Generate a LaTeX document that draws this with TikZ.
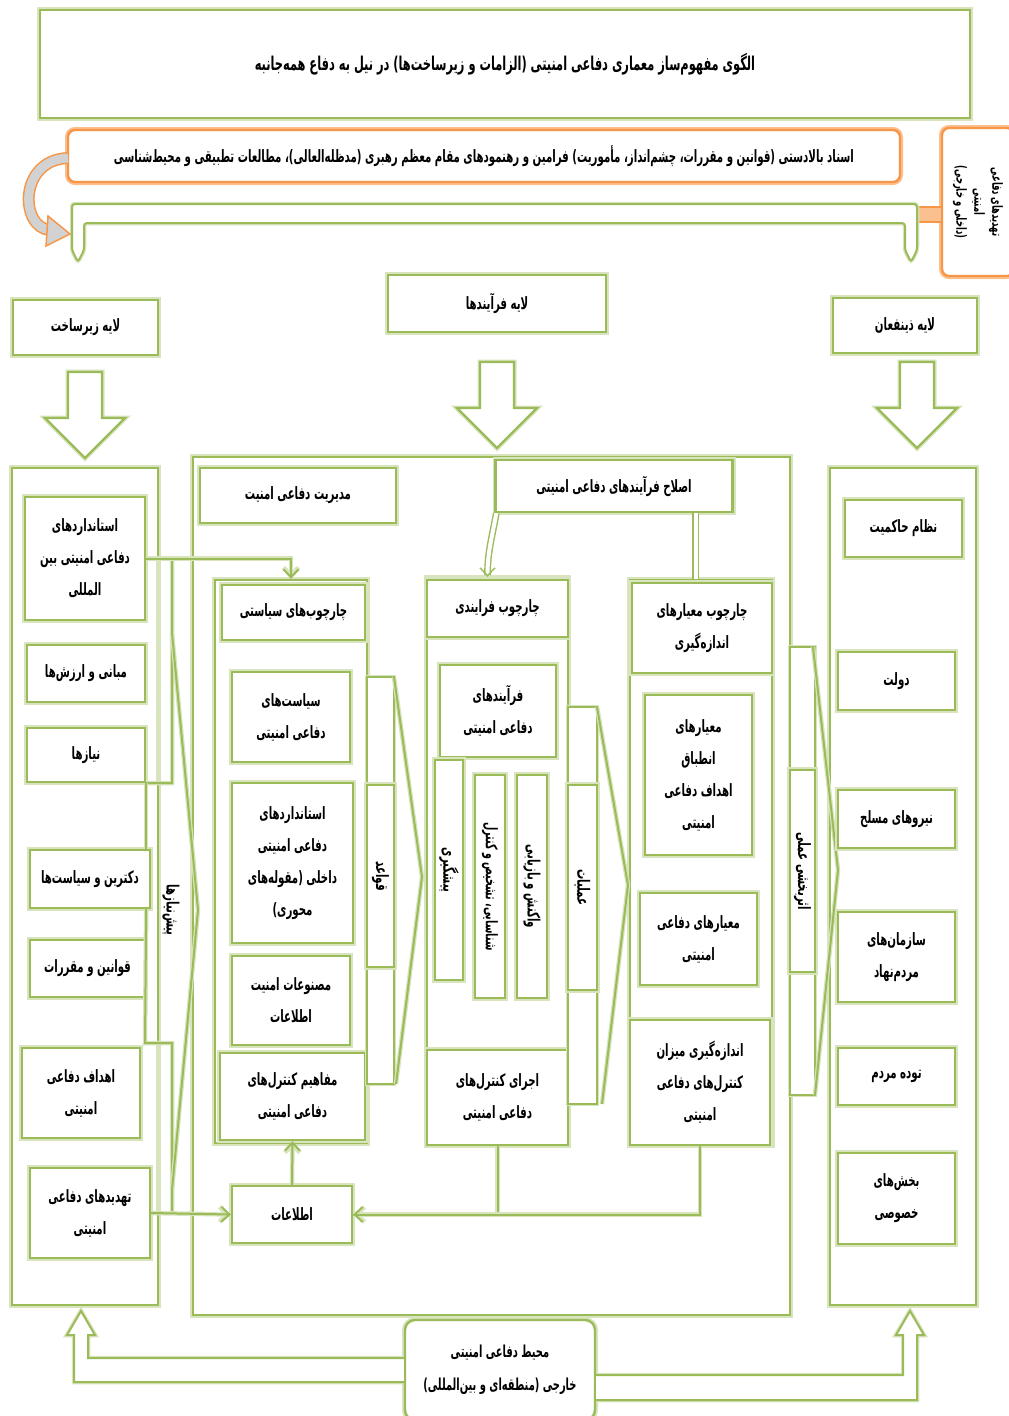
\documentclass[tikz,border=0pt]{standalone}
\usepackage{fontspec}
\usetikzlibrary{arrows.meta}
\newfontfamily\arabicfont[Script=Arabic, FakeStretch=0.6]{DejaVu Sans}
\TeXXeTstate=1
\newcommand{\fa}[1]{\beginR#1\endR}
\definecolor{grn}{HTML}{9BBB59}
\definecolor{lgrn}{HTML}{D7E4BD}
\definecolor{org}{HTML}{F79646}
\definecolor{lorg}{HTML}{FAC090}

\tikzset{
  gbox/.style={draw=grn, line width=2.4pt, fill=white, align=center, inner sep=1pt,
    preaction={draw=lgrn, line width=6pt},
    font=\arabicfont\bfseries\fontsize{17}{32}\selectfont},
  obox/.style={draw=org, line width=2.4pt, fill=white, align=center, rounded corners=7pt,
    preaction={draw=lorg, line width=6pt},
    font=\arabicfont\bfseries\fontsize{17}{20}\selectfont},
  vbox/.style={gbox, rotate=-90},
  gline/.style={draw=grn, line width=2pt, preaction={draw=lgrn, line width=4.5pt}},
  dline/.style={draw=grn, line width=1.4pt, double=white, double distance=4pt},
  tip/.style={-{Straight Barb[length=8pt,width=15pt]}},
  barrow/.style={draw=grn, line width=2.2pt, fill=white, preaction={draw=lgrn, line width=5pt}},
}

\begin{document}
\begin{tikzpicture}[x=1pt,y=-1pt]
\useasboundingbox (0,0) rectangle (1009,1416);

% title, sources
\node[gbox, fill=white, minimum width=930, minimum height=108, font=\arabicfont\bfseries\fontsize{19}{20}\selectfont] (title) at (505,64)
  {\fa{الگوی مفهوم‌ساز معماری دفاعی امنیتی (الزامات و زیرساخت‌ها) در نیل به دفاع همه‌جانبه}};
\node[obox, minimum width=832, minimum height=52] (src) at (484,156)
  {\fa{اسناد بالادستی (قوانین و مقررات، چشم‌انداز، مأموریت) فرامین و رهنمودهای مقام معظم رهبری (مدظله‌العالی)، مطالعات تطبیقی و محیط‌شناسی}};
\node[obox, minimum width=148, minimum height=72, rotate=-90, font=\arabicfont\bfseries\fontsize{14}{18}\selectfont] (thrI) at (978,202)
  {\fa{تهدیدهای دفاعی}\\\fa{امنیتی}\\\fa{(داخلی و خارجی)}};

% feedback bracket
\draw[draw=org, fill=lorg, line width=1.5pt] (916,207) rectangle (942,222);
\draw[gline, fill=white, rounded corners=3] (78,262) -- (72,250) -- (72,204) -- (917,204) -- (917,250) -- (911,262)
  -- (905,250) -- (905,223) -- (84,223) -- (84,250) -- cycle;
\draw[draw=org, line width=1.5pt, double=gray!35, double distance=9pt] (68,158) .. controls (18,160) and (20,228) .. (50,230);
\fill[gray!35, draw=org, line width=1.5pt] (48,216) -- (70,234) -- (46,246) -- cycle;

% layers
\node[gbox, minimum width=145, minimum height=55] (lyrL) at (85.5,327.5) {\fa{لایه زیرساخت}};
\node[gbox, minimum width=218, minimum height=57] (lyrC) at (497,303.5) {\fa{لایه فرآیندها}};
\node[gbox, minimum width=144, minimum height=55] (lyrR) at (905,325.5) {\fa{لایه ذینفعان}};
\foreach \cx/\ty in {85/372, 497/362, 917/362}
  \draw[barrow] (\cx-17,\ty) -- (\cx+17,\ty) -- (\cx+17,\ty+46) -- (\cx+40,\ty+46) -- (\cx,\ty+86)
    -- (\cx-40,\ty+46) -- (\cx-17,\ty+46) -- cycle;

\node[gbox, minimum width=146, minimum height=837] (colL) at (85,886.5) {};
\node[gbox, minimum width=597, minimum height=858] (colC) at (491.5,886) {};
\node[gbox, minimum width=146, minimum height=837] (colR) at (903,886.5) {};

% infrastructure layer
\node[gbox, minimum width=120, minimum height=123] (stdI) at (85,558.5) {\fa{استانداردهای}\\\fa{دفاعی امنیتی بین}\\\fa{المللی}};
\node[gbox, minimum width=118, minimum height=57] (basis) at (86,673.5) {\fa{مبانی و ارزش‌ها}};
\node[gbox, minimum width=118, minimum height=54] (needs) at (86,755) {\fa{نیازها}};
\node[gbox, minimum width=120, minimum height=58] (doct) at (90,879) {\fa{دکترین و سیاست‌ها}};
\node[gbox, minimum width=115, minimum height=57] (laws) at (87.5,968.5) {\fa{قوانین و مقررات}};
\node[gbox, minimum width=118, minimum height=90] (goals) at (81,1093) {\fa{اهداف دفاعی}\\\fa{امنیتی}};
\node[gbox, minimum width=120, minimum height=90] (thr) at (90,1213) {\fa{تهدیدهای دفاعی}\\\fa{امنیتی}};

\draw[lgrn, line width=3pt] (157,558) -- (157,783) (157,1043) -- (157,1213);
\draw[gline] (needs.south east) -- (172,783) -- (172,558);
\draw[gline] (needs.south east) -- (needs.south east |- doct.north);
\draw[gline] (doct.south east -| laws.east) -- (145,1043) -- (172,1043) -- (172,1213);
\draw[gline] (172,633) -- (198,910) -- (172,1190);
\node[font=\arabicfont\bfseries\fontsize{17}{18}\selectfont, rotate=-90] (preq) at (171,910) {\fa{پیش‌نیازها}};

% process layer
\node[gbox, minimum width=196, minimum height=55] (mgmt) at (298,495.5) {\fa{مدیریت دفاعی امنیت}};
\node[gbox, minimum width=237, minimum height=52] (fix) at (614,486) {\fa{اصلاح فرآیندهای دفاعی امنیتی}};

\node[gbox, minimum width=152, minimum height=563] (polcol) at (291,861.5) {};
\node[gbox, minimum width=143, minimum height=55] (polfr) at (293.5,612.5) {\fa{چارچوب‌های سیاستی}};
\node[gbox, minimum width=118, minimum height=90] (polic) at (291,717) {\fa{سیاست‌های}\\\fa{دفاعی امنیتی}};
\node[gbox, minimum width=121, minimum height=160] (stdD) at (292.5,863) {\fa{استانداردهای}\\\fa{دفاعی امنیتی}\\\fa{داخلی (مقوله‌های}\\\fa{محوری)}};
\node[gbox, minimum width=118, minimum height=89] (artf) at (291,1000.5) {\fa{مصنوعات امنیت}\\\fa{اطلاعات}};
\node[gbox, minimum width=145, minimum height=87] (ctrlc) at (292.5,1096.5) {\fa{مفاهیم کنترل‌های}\\\fa{دفاعی امنیتی}};

\node[gbox, minimum width=141, minimum height=567] (prccol) at (497.5,861.5) {};
\node[gbox, minimum width=141, minimum height=57] (prcfr) at (497.5,608.5) {\fa{چارچوب فرایندی}};
\node[gbox, minimum width=116, minimum height=92] (prcs) at (498,711) {\fa{فرآیندهای}\\\fa{دفاعی امنیتی}};
\node[vbox, minimum width=220, minimum height=28] (prev) at (449,870) {\fa{پیشگیری}};
\node[vbox, minimum width=223, minimum height=30, font=\arabicfont\bfseries\fontsize{16}{18}\selectfont] (detc) at (490,886.5) {\fa{شناسایی، تشخیص و کنترل}};
\node[vbox, minimum width=223, minimum height=30] (recv) at (532,886.5) {\fa{واکنش و بازیابی}};
\node[gbox, minimum width=141, minimum height=95] (exec) at (497.5,1097.5) {\fa{اجرای کنترل‌های}\\\fa{دفاعی امنیتی}};

\node[gbox, minimum width=142, minimum height=565] (metcol) at (701,862.5) {};
\node[gbox, minimum width=140, minimum height=90] (metfr) at (702,628) {\fa{چارچوب معیارهای}\\\fa{اندازه‌گیری}};
\node[gbox, minimum width=107, minimum height=160] (metal) at (698.5,775) {\fa{معیارهای}\\\fa{انطباق}\\\fa{اهداف دفاعی}\\\fa{امنیتی}};
\node[gbox, minimum width=117, minimum height=92] (metdf) at (698.5,939) {\fa{معیارهای دفاعی}\\\fa{امنیتی}};
\node[gbox, minimum width=140, minimum height=125] (meas) at (700,1082.5) {\fa{اندازه‌گیری میزان}\\\fa{کنترل‌های دفاعی}\\\fa{امنیتی}};

\node[gbox, minimum width=120, minimum height=57] (info) at (292,1214.5) {\fa{اطلاعات}};

% arrows between frameworks
\draw[gline, fill=white] (367,677) rectangle (394,1084);
\draw[gline] (394,677) -- (422,877) -- (396,1084);
\node[vbox, minimum width=182, minimum height=27] (rules) at (380.5,876) {\fa{قواعد}};
\draw[gline, fill=white] (568,707) rectangle (597,1104);
\draw[gline] (597,707) -- (628,885) -- (602,1104);
\node[vbox, minimum width=205, minimum height=29] (oper) at (582.5,887.5) {\fa{عملیات}};
\draw[gline, fill=white] (790,647) rectangle (815,1095);
\draw[gline] (813,647) -- (838,870) -- (815,1095);
\node[vbox, minimum width=202, minimum height=25] (effc) at (802.5,871) {\fa{اثربخشی عملی}};

% connectors
\draw[gline, tip] (stdI.east) -| (polcol.north);
\draw[gline, tip] (thr.east) -- (info.west);
\draw[gline, tip] (info.north) -- (ctrlc.south);
\draw[gline] (exec.south) |- (info.east);
\draw[gline, tip] (meas.south) |- (info.east);
\draw[dline, tip] ([xshift=2]fix.south west) to[out=-100,in=90] ([xshift=-10]prccol.north);
\draw[dline] ([xshift=-38]fix.south east) -- ([xshift=-38]fix.south east |- metcol.north);

% stakeholders
\node[gbox, minimum width=117, minimum height=57] (rule) at (903.5,528.5) {\fa{نظام حاکمیت}};
\node[gbox, minimum width=117, minimum height=58] (gov) at (896.5,681) {\fa{دولت}};
\node[gbox, minimum width=117, minimum height=58] (army) at (896.5,819) {\fa{نیروهای مسلح}};
\node[gbox, minimum width=117, minimum height=90] (ngo) at (896.5,957) {\fa{سازمان‌های}\\\fa{مردم‌نهاد}};
\node[gbox, minimum width=117, minimum height=57] (ppl) at (896.5,1076.5) {\fa{توده مردم}};
\node[gbox, minimum width=117, minimum height=91] (priv) at (896.5,1198.5) {\fa{بخش‌های}\\\fa{خصوصی}};

% external environment
\node[gbox, rounded corners=10pt, minimum width=190, minimum height=100, font=\arabicfont\bfseries\fontsize{16.5}{33}\selectfont] (env) at (500,1370)
  {\fa{محیط دفاعی امنیتی}\\\fa{خارجی (منطقه‌ای و بین‌المللی)}};
\draw[gline, fill=white] (env.west |- 0,1358) -- (88,1358) -- (88,1335) -- (95,1335) -- (81,1311) -- (67,1335) -- (74,1335)
  -- (74,1382) -- (env.west |- 0,1382);
\draw[gline, fill=white] (env.east |- 0,1375) -- (903,1375) -- (903,1335) -- (896,1335) -- (910,1311) -- (924,1335) -- (917,1335)
  -- (917,1400) -- (env.east |- 0,1400);
\end{tikzpicture}
\end{document}
